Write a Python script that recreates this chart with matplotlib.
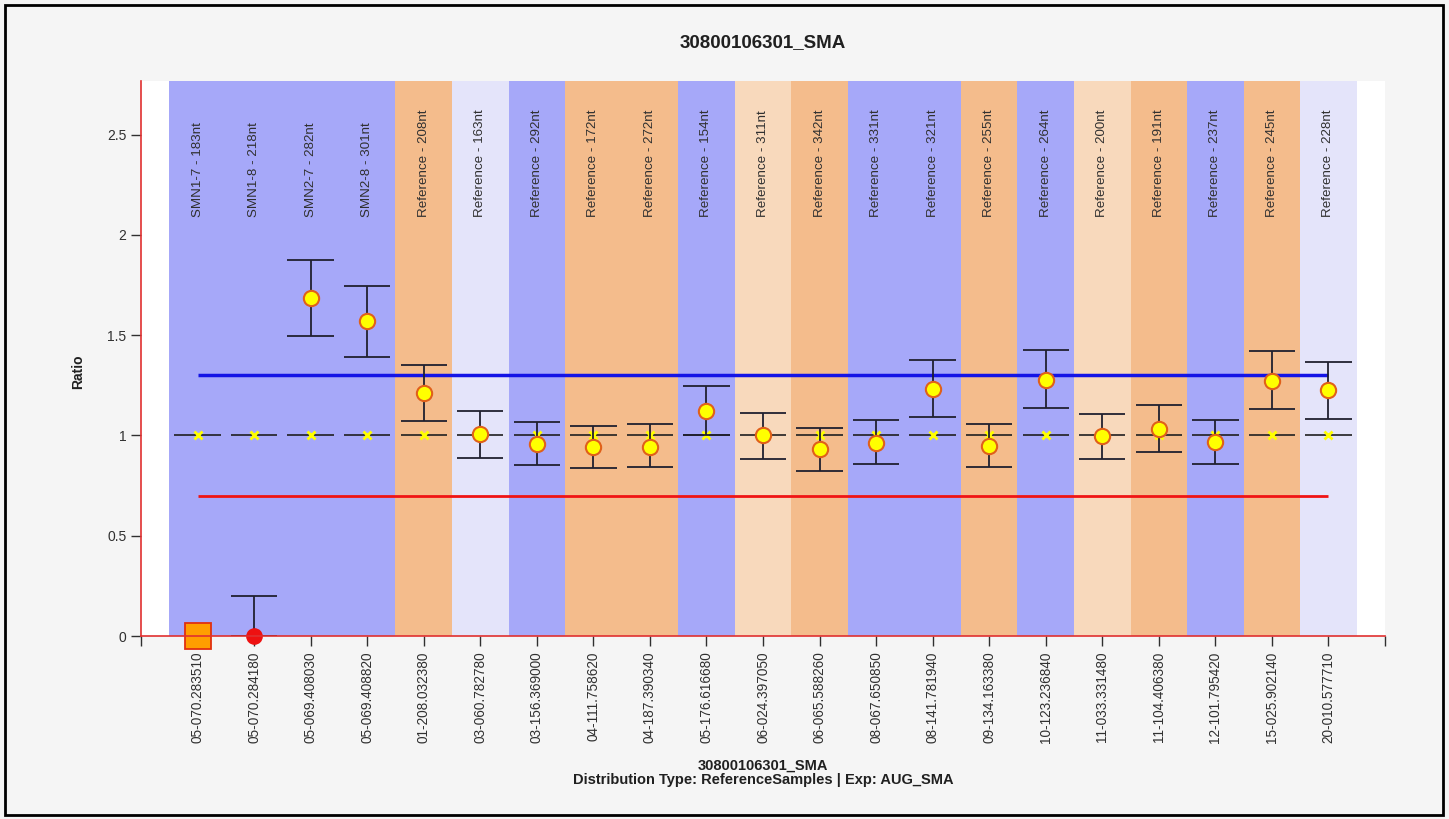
import numpy as np
import matplotlib
matplotlib.use('Agg')
import matplotlib.pyplot as plt
from matplotlib.patches import Rectangle
from matplotlib.ticker import FormatStrFormatter

plt.rcParams['font.family'] = ['Liberation Sans', 'DejaVu Sans']

# Probe names (top of every column) and sample positions (x tick labels)
probes = ['SMN1-7 - 183nt', 'SMN1-8 - 218nt', 'SMN2-7 - 282nt', 'SMN2-8 - 301nt',
          'Reference - 208nt', 'Reference - 163nt', 'Reference - 292nt', 'Reference - 172nt',
          'Reference - 272nt', 'Reference - 154nt', 'Reference - 311nt', 'Reference - 342nt',
          'Reference - 331nt', 'Reference - 321nt', 'Reference - 255nt', 'Reference - 264nt',
          'Reference - 200nt', 'Reference - 191nt', 'Reference - 237nt', 'Reference - 245nt',
          'Reference - 228nt']
positions = ['05-070.283510', '05-070.284180', '05-069.408030', '05-069.408820',
             '01-208.032380', '03-060.782780', '03-156.369000', '04-111.758620',
             '04-187.390340', '05-176.616680', '06-024.397050', '06-065.588260',
             '08-067.650850', '08-141.781940', '09-134.163380', '10-123.236840',
             '11-033.331480', '11-104.406380', '12-101.795420', '15-025.902140',
             '20-010.577710']

# Measured ratio and its confidence range (nan = no range shown)
ratio = [0.0, 0.0, 1.685, 1.57, 1.212, 1.007, 0.958, 0.944, 0.944, 1.124, 1.0,
         0.931, 0.965, 1.234, 0.949, 1.277, 0.995, 1.032, 0.968, 1.272, 1.227]
upper = [np.nan, 0.2, 1.875, 1.746, 1.352, 1.122, 1.067, 1.049, 1.056, 1.248, 1.112,
         1.039, 1.077, 1.377, 1.056, 1.426, 1.107, 1.152, 1.077, 1.421, 1.367]
lower = [np.nan, 0.0, 1.496, 1.39, 1.072, 0.888, 0.853, 0.836, 0.841, 1.0, 0.884,
         0.823, 0.856, 1.094, 0.841, 1.137, 0.883, 0.918, 0.858, 1.132, 1.082]
expected = [1.0] * 21
# call per probe: 'absent' (square), 'low' (red dot), 'normal' (yellow dot)
call = ['absent', 'low'] + ['normal'] * 19
# background group of each column
band = ['blue', 'blue', 'blue', 'blue', 'orange', 'lavender', 'blue', 'orange', 'orange',
        'blue', 'peach', 'orange', 'blue', 'blue', 'orange', 'blue', 'peach', 'orange',
        'blue', 'orange', 'lavender']

upper_limit = 1.3
lower_limit = 0.7

band_colors = {'blue': '#a6a8f9', 'orange': '#f4bc8c', 'lavender': '#e4e4fa', 'peach': '#f8d9bc'}

fig = plt.figure(figsize=(14.49, 8.19), dpi=100, facecolor='#f5f5f5')
ax = fig.add_axes([141 / 1449, 1 - 636 / 819, (1385 - 141) / 1449, (636 - 81) / 819])
ax.set_facecolor('white')

# outer frame of the picture
fig.patches.append(Rectangle((5 / 1449, 4 / 819), 1438 / 1449, 810 / 819, transform=fig.transFigure,
                             fill=False, edgecolor='black', linewidth=2))

x = np.arange(1, len(probes) + 1)
half = 0.41

# Coloured column backgrounds plus probe names
for xi, b, name in zip(x, band, probes):
    ax.axvspan(xi - 0.5, xi + 0.5, color=band_colors[b], zorder=0, linewidth=0)
    ax.text(xi, 2.09, name, rotation=90, ha='center', va='bottom', fontsize=9.6, color='#303030')

# limit lines
ax.hlines(upper_limit, x[0], x[-1], color='#1414e6', linewidth=2.5, zorder=2)
ax.hlines(lower_limit, x[0], x[-1], color='#f01414', linewidth=2, zorder=2)

# expected ratio: short black line + yellow cross
ax.hlines(expected, x - half, x + half, color='#202020', linewidth=1.2, zorder=3)
ax.plot(x, expected, linestyle='none', marker='x', color='#ffff00', markersize=6, mew=2, zorder=4)

# confidence ranges
up = np.array(upper)
lo = np.array(lower)
ok = ~np.isnan(up)
ax.vlines(x[ok], lo[ok], up[ok], color='#202030', linewidth=1.3, zorder=5)
ax.hlines(up[ok], x[ok] - half, x[ok] + half, color='#202030', linewidth=1.3, zorder=5)
ax.hlines(lo[ok], x[ok] - half, x[ok] + half, color='#202030', linewidth=1.3, zorder=5)

# measured ratios
r = np.array(ratio)
c = np.array(call)
m = c == 'normal'
ax.plot(x[m], r[m], linestyle='none', marker='o', markersize=11, markerfacecolor='#ffff00',
        markeredgecolor='#e0601a', markeredgewidth=1.5, zorder=6)
m = c == 'low'
ax.plot(x[m], r[m], linestyle='none', marker='o', markersize=11, color='#ee1111',
        zorder=6, clip_on=False)
m = c == 'absent'
ax.plot(x[m], r[m], linestyle='none', marker='s', markersize=19, markerfacecolor='#ff9e00',
        markeredgecolor='#e03010', markeredgewidth=1.3, zorder=6, clip_on=False)

ax.set_xlim(0, len(probes) + 1)
ax.set_ylim(0, 2.768)
ax.set_xticks(np.arange(0, len(probes) + 2))
ax.set_xticklabels([''] + positions + [''], rotation=90, fontsize=9.8, color='#303030')
ax.set_yticks([0, 0.5, 1, 1.5, 2, 2.5])
ax.yaxis.set_major_formatter(FormatStrFormatter('%g'))
ax.tick_params(axis='y', labelsize=10, colors='#303030', length=7, width=1)
ax.tick_params(axis='x', length=7, width=1, colors='#303030', pad=4)

for side in ['top', 'right']:
    ax.spines[side].set_visible(False)
for side in ['left', 'bottom']:
    ax.spines[side].set_color('#e03030')
    ax.spines[side].set_linewidth(1.2)
    ax.spines[side].set_zorder(7)

# y label sits further right/lower than matplotlib's default spot
fig.text(78 / 1449, 1 - 372 / 819, 'Ratio', rotation=90, ha='center', va='center',
         fontsize=10, fontweight='bold', color='#202020')
fig.text(763 / 1449, 1 - 43 / 819, '30800106301_SMA', ha='center', va='center',
         fontsize=13.5, fontweight='bold', color='#202020')
fig.text(763 / 1449, 1 - 766 / 819, '30800106301_SMA', ha='center', va='center',
         fontsize=10.5, fontweight='bold', color='#202020')
fig.text(763 / 1449, 1 - 780 / 819, 'Distribution Type: ReferenceSamples | Exp: AUG_SMA',
         ha='center', va='center', fontsize=10.5, fontweight='bold', color='#202020')

fig.savefig('out.png', dpi=100, facecolor=fig.get_facecolor())
